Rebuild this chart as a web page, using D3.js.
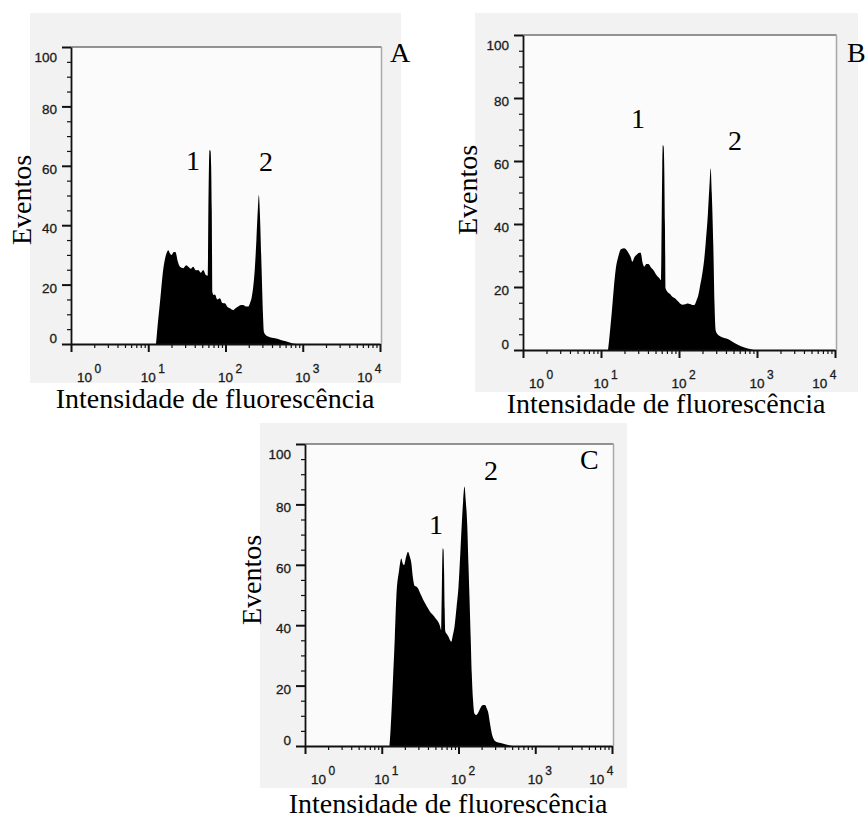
<!DOCTYPE html>
<html><head><meta charset="utf-8">
<script src="https://cdn.jsdelivr.net/npm/d3@7"></script>
<style>body{margin:0;background:#fff}svg{display:block}</style>
</head><body>
<script>
// ---------- DATA ----------
const fluorA  = [12.6,13.0,14.2,15.7,17.2,18.2,19.1,20.0,21.4,22.6,24.0,25.7,28.4,30.9,33.0,35.5,38.2,41.2,44.4,47.9,51.5,55.8,58.9,60.0,61.1,62.2,64.0,65.2,66.4,67.6,70.0,72.9,78.5,84.7,91.2,98.2,105.9,114.0,125.9,134.9,146.2,158.5,169.4,184.1,196.8,208.9,217.3,229.1,239.9,251.2,263.0,270.4,278.6,293.1,305.5,314.1,331.1,356.5,398.1,480.8,562.3,647.1,741.3,831.8];
const eventsA = [0,4,14.2,25.5,30.5,31.6,30.5,30,31,30.9,28,26,25.5,26.5,26,25.3,26,24.8,24.9,24,24.9,23.2,23,45,60,65.3,65,60,45,17.5,16.5,16.7,15,15.4,13.8,13.7,12.5,12,11.4,12,12.6,13.1,13.1,12.6,12.6,14,15.4,19.5,25.5,35,46,50.2,44,25.5,10,4.1,3,2.5,2.1,1.7,1.1,0.7,0.2,0];

const fluorB  = [12.3,12.7,13.7,15.4,16.8,18.0,19.9,22.4,24.0,25.2,26.9,28.6,30.9,32.2,34.3,36.0,38.0,40.5,43.7,46.9,50.1,53.2,56.0,58.7,59.9,61.0,62.0,63.6,64.8,66.0,67.5,70.8,76.7,83.2,88.9,95.5,103.0,112.2,119.4,128.8,138.4,147.9,157.4,167.9,177.0,188.4,199.1,209.9,219.8,234.4,245.5,254.7,263.0,275.4,285.1,295.1,312.6,335.7,380.2,428.5,501.2,575.4,676.1,812.8,912.0];
const eventsB = [0,3,11.6,25.4,30,32,32.3,30.9,29.5,28,29.5,30.2,30.9,30.9,27.5,26.5,27.3,27.3,26.2,25.4,24.2,23.3,22.8,22.2,40,58,65.1,64.5,57,40,19.5,18.5,17.8,16.8,16.4,15.6,14.8,14.4,14.5,14.8,14.6,14.3,14.3,15.8,17.5,21,24.3,28.5,33.9,43,52,57.7,50,33,15,6.3,5,4.4,3.8,3.4,2.4,1.6,0.9,0.3,0];

const fluorC  = [12.6,13.0,14.0,14.8,15.5,16.8,18.0,18.7,19.5,20.7,22.0,23.0,24.3,25.4,26.9,28.2,29.6,32.0,34.4,37.2,40.0,43.2,46.5,50.1,54.0,56.9,59.6,60.5,61.4,62.3,63.8,64.9,66.1,67.3,70.8,74.1,77.6,80.4,84.1,88.7,94.4,100,105.2,110.4,114.8,119.7,124.5,129.7,134.9,139.0,144.5,148.9,154.9,161.4,169.8,178.2,188.4,196.8,208.9,221.8,234.4,245.5,257.0,271.0,288.4,308.3,354.8,416.9,501.2];
const eventsC = [0,5,21.9,36,49.4,58,62.1,60.5,59.9,62.5,64.3,63,60.5,56,53,52.8,52.2,50.3,48.6,47,45.6,44.2,43.4,42.3,41.2,40,38.4,50,61,65.5,65,58,45,38,37,36.2,35,34.5,36.5,39.5,46,52.7,63,73.7,81,85.9,81,73.7,60,49.4,35,24,15,10.8,10.3,10.8,12,13,13.6,13.6,12.3,10.8,7.5,4.2,2.2,1.4,1.0,0.5,0];

const yTickValues  = [0,20,40,60,80,100];
const yMinorValues = [5,10,15,25,30,35,45,50,55,65,70,75,85,90,95];
const xDecades     = [1,10,100,1000,10000];
const xExponents   = ["0","1","2","3","4"];
const panelLetters = ["A","B","C"];
const peakLabels   = ["1","2"];
const yTitleText   = "Eventos";
const xTitleText   = "Intensidade de fluorescência";

// ---------- LAYOUT ----------
const layout = [
  {bg:[30,13,401,383], x:[71,380], y:[344,47], letter:[390,62], p1:[193,170], p2:[266,171], yT:[31,200], xT:[215,408]},
  {bg:[475,13,858,392], x:[523,835], y:[350,35], letter:[847,62], p1:[638,128], p2:[735,150], yT:[477,190], xT:[666,413]},
  {bg:[260,423,627,788], x:[305,612], y:[746,444], letter:[580,469], p1:[436,534], p2:[491,480], yT:[261,580], xT:[448,813]}
];
const serif = "'Liberation Serif','Times New Roman',serif";
const sans  = "'Liberation Sans',Arial,sans-serif";

const svg = d3.select("body").append("svg").attr("width",867).attr("height",816);
svg.append("rect").attr("width",867).attr("height",816).attr("fill","#fff");

function drawPanel(i, fluor, events){
  const L = layout[i];
  const g = svg.append("g");
  g.append("rect").attr("x",L.bg[0]).attr("y",L.bg[1]).attr("width",L.bg[2]-L.bg[0]).attr("height",L.bg[3]-L.bg[1]).attr("fill","#f2f2f2");

  const x = d3.scaleLog().domain([1,1e4]).range(L.x);
  const y = d3.scaleLinear().domain([0,100]).range(L.y);

  g.append("rect").attr("x",L.x[0]).attr("y",L.y[1]).attr("width",L.x[1]-L.x[0]+1.5).attr("height",L.y[0]-L.y[1]).attr("fill","#fbfbfb");

  const data = fluor.map((f,k)=>[f,events[k]]);
  g.append("path").datum(data)
    .attr("d", d3.area().x(d=>x(d[0])).y0(y(0)).y1(d=>y(d[1])).curve(d3.curveMonotoneX))
    .attr("fill","#000");

  // frame
  g.append("line").attr("x1",L.x[0]).attr("x2",L.x[1]+1.5).attr("y1",y(100)).attr("y2",y(100)).attr("stroke","#707070").attr("stroke-width",1.3);
  g.append("line").attr("x1",L.x[1]+1.5).attr("x2",L.x[1]+1.5).attr("y1",y(100)).attr("y2",y(0)).attr("stroke","#a8a8a8").attr("stroke-width",1.5);

  // axes
  const styleAxis = (sel, w) => { sel.selectAll("path.domain").attr("stroke","#111").attr("stroke-width",1.8);
    sel.selectAll(".tick line").attr("stroke","#111").attr("stroke-width",w); sel.selectAll(".tick text").remove(); };
  const yMaj = g.append("g").attr("transform",`translate(${L.x[0]},0)`)
    .call(d3.axisLeft(y).tickValues(yTickValues).tickSize(9).tickSizeOuter(0));
  styleAxis(yMaj,2);
  const yMin = g.append("g").attr("transform",`translate(${L.x[0]},0)`)
    .call(d3.axisLeft(y).tickValues(yMinorValues).tickSize(4).tickSizeOuter(0));
  styleAxis(yMin,1.2); yMin.select("path.domain").remove();

  const xMinorVals = [];
  xDecades.slice(0,-1).forEach(d=>{ for(let m=2;m<10;m++) xMinorVals.push(m*d); });
  const xMaj = g.append("g").attr("transform",`translate(0,${L.y[0]})`)
    .call(d3.axisBottom(x).tickValues(xDecades).tickSize(8).tickSizeOuter(0));
  styleAxis(xMaj,2);
  const xMin = g.append("g").attr("transform",`translate(0,${L.y[0]})`)
    .call(d3.axisBottom(x).tickValues(xMinorVals).tickSize(4).tickSizeOuter(0));
  styleAxis(xMin,1.2); xMin.select("path.domain").remove();

  // y tick labels (clamped inside the axis span)
  yTickValues.forEach(v=>{
    let by = y(v)+8;
    by = Math.max(by, L.y[1]+15); by = Math.min(by, L.y[0]-1);
    g.append("text").attr("x",L.x[0]-14).attr("y",by).attr("text-anchor","end")
      .attr("font-family",sans).attr("font-size",13.5).attr("fill","#1a1a1a")
      .attr("stroke","#1a1a1a").attr("stroke-width",0.3).text(v);
  });
  // x tick labels: "10" with superscript exponent, clamped inside the axis span
  xDecades.forEach((d,k)=>{
    const t = g.append("text").attr("x",x(d)).attr("y",L.y[0]+38)
      .attr("font-family",sans).attr("font-size",13.5).attr("fill","#1a1a1a")
      .attr("stroke","#1a1a1a").attr("stroke-width",0.3);
    t.append("tspan").text("10");
    t.append("tspan").attr("dx",2.5).attr("dy",-9).attr("font-size",12).text(xExponents[k]);
    const tw = t.node().getComputedTextLength();
    let left = x(d) - 7.5;
    if (left < L.x[0]+6) left = L.x[0]+6;
    if (left + tw > L.x[1]-1) left = L.x[1]-1-tw;
    t.attr("x", left);
  });

  // titles & labels
  g.append("text").attr("transform",`translate(${L.yT[0]},${L.yT[1]}) rotate(-90)`).attr("text-anchor","middle")
    .attr("font-family",serif).attr("font-size",28).attr("fill","#000").text(yTitleText);
  g.append("text").attr("x",L.xT[0]).attr("y",L.xT[1]).attr("text-anchor","middle")
    .attr("font-family",serif).attr("font-size",28).attr("fill","#000").text(xTitleText);
  g.append("text").attr("x",L.letter[0]).attr("y",L.letter[1])
    .attr("font-family",serif).attr("font-size",28).attr("fill","#000").text(panelLetters[i]);
  g.append("text").attr("x",L.p1[0]).attr("y",L.p1[1]).attr("text-anchor","middle")
    .attr("font-family",serif).attr("font-size",28).attr("fill","#000").text(peakLabels[0]);
  g.append("text").attr("x",L.p2[0]).attr("y",L.p2[1]).attr("text-anchor","middle")
    .attr("font-family",serif).attr("font-size",28).attr("fill","#000").text(peakLabels[1]);
}

drawPanel(0, fluorA, eventsA);
drawPanel(1, fluorB, eventsB);
drawPanel(2, fluorC, eventsC);
</script>
</body></html>
